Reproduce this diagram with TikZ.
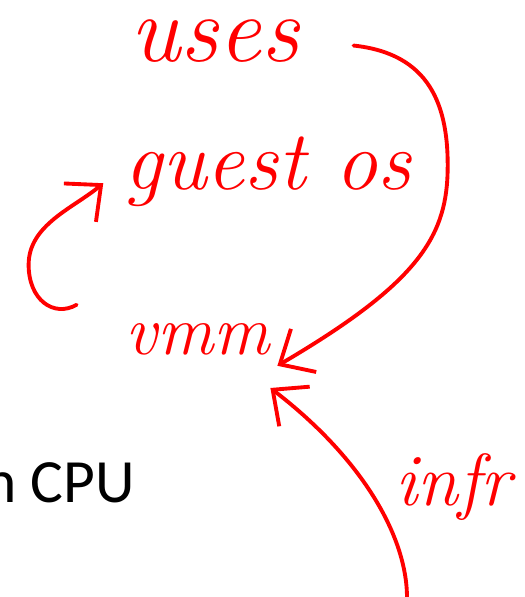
\documentclass[tikz,border=0pt]{standalone}
\usepackage{fontspec}
\newfontfamily\slidefont{Carlito}
\usetikzlibrary{positioning, calc, arrows.meta}

\begin{document}
\begin{tikzpicture}[x=0.02cm,y=-0.02cm,
  pen/.style={red,line width=2.2pt,line cap=round,line join=round},
  hand/.style={red,inner sep=0pt,anchor=base,font=\itshape},
  tip/.style={-{Straight Barb[length=5.5mm,width=10mm]}}]
\useasboundingbox (0,0) rectangle (524,597);
  \node(uses)[hand,font=\itshape\fontsize{54}{54}\selectfont] at (215,62) {uses};
  \node(guestos)[hand,font=\itshape\fontsize{48}{48}\selectfont,below=2.56cm of uses.base,anchor=base,xshift=1.06cm]{guest os};
  \node(vmm)[hand,font=\itshape\fontsize{40}{40}\selectfont,below=3.3cm of guestos.base,anchor=base,xshift=-1.4cm]{vmm};
%
  \node(infr)[hand,anchor=base west,font=\itshape\fontsize{42}{42}\selectfont] at (395,505) {infr};
  \node(cpu)[inner sep=0pt,anchor=base east,font=\slidefont\fontsize{35}{35}\selectfont] at (135,502) {n CPU};
  \coordinate(bottom) at (407,600);
%
\draw[pen,tip]($(uses.east)+(54,4)$) .. controls +(75,8) and +(2,-70) .. ($(uses.east)+(148,132)$)
  .. controls +(-2,65) and +(138,-81) .. ($(vmm.east)+(7,26)$);
\draw[pen,tip]($(vmm.west)+(-49,-35)$) .. controls +(-23,13) and +(0,35) .. ($(vmm.west)+(-97,-75)$)
  .. controls +(0,-40) and +(-30,25) .. ($(guestos.west)+(-21,11)$);
\draw[pen,tip](bottom) .. controls +(1,-60) and +(95,73) .. ($(vmm.south east)+(0,32)$);
\end{tikzpicture}
\end{document}
